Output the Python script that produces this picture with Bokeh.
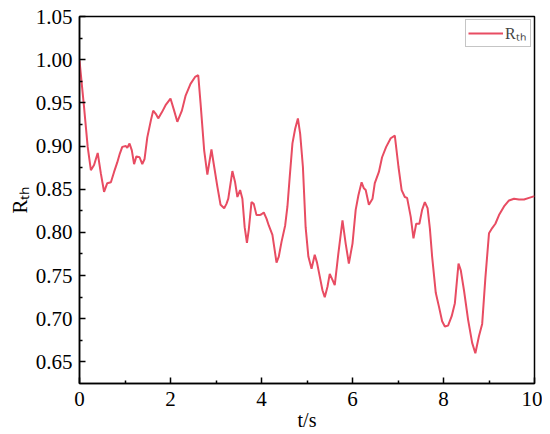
from bokeh.plotting import figure
from bokeh.models import (Range1d, FixedTicker, Legend, LegendItem,
                          PrintfTickFormatter)
from bokeh.embed import file_html
from bokeh.resources import INLINE

# ---- data ----
t_s = [0.00, 0.10, 0.18, 0.25, 0.32, 0.40, 0.47, 0.54, 0.61, 0.69, 0.76, 0.83,
       0.885, 0.94, 1.02, 1.05, 1.10, 1.15, 1.20, 1.25, 1.32, 1.38, 1.43, 1.49,
       1.57, 1.62, 1.68, 1.73, 1.81, 1.90, 2.00, 2.08, 2.15, 2.25, 2.33, 2.44,
       2.54, 2.61, 2.66, 2.74, 2.81, 2.90, 2.96, 3.03, 3.10, 3.18, 3.23, 3.27,
       3.36, 3.42, 3.47, 3.53, 3.58, 3.63, 3.68, 3.72, 3.78, 3.83, 3.89, 3.96,
       4.00, 4.05, 4.11, 4.16, 4.24, 4.28, 4.33, 4.38, 4.44, 4.52, 4.57, 4.62,
       4.68, 4.74, 4.80, 4.85, 4.91, 4.97, 5.03, 5.10, 5.17, 5.22, 5.28, 5.34,
       5.39, 5.45, 5.50, 5.56, 5.61, 5.69, 5.78, 5.85, 5.92, 6.00, 6.07, 6.13,
       6.20, 6.25, 6.29, 6.36, 6.44, 6.49, 6.58, 6.65, 6.74, 6.84, 6.93, 7.01,
       7.08, 7.15, 7.20, 7.28, 7.34, 7.40, 7.47, 7.53, 7.59, 7.65, 7.70, 7.75,
       7.83, 7.90, 7.97, 8.03, 8.10, 8.18, 8.25, 8.33, 8.38, 8.45, 8.54, 8.63,
       8.70, 8.78, 8.85, 8.92, 9.00, 9.07, 9.14, 9.22, 9.33, 9.44, 9.55, 9.66,
       9.77, 9.88, 10.00]
r_th = [0.999, 0.945, 0.899, 0.872, 0.878, 0.892, 0.868, 0.847, 0.857, 0.858, 0.870, 0.881,
        0.891, 0.899, 0.900, 0.898, 0.903, 0.895, 0.879, 0.888, 0.887, 0.879, 0.885, 0.910,
        0.930, 0.941, 0.937, 0.932, 0.939, 0.948, 0.955, 0.941, 0.928, 0.941, 0.958, 0.972,
        0.980, 0.982, 0.950, 0.895, 0.867, 0.896, 0.876, 0.853, 0.832, 0.828, 0.833, 0.839,
        0.871, 0.858, 0.841, 0.849, 0.839, 0.806, 0.788, 0.803, 0.835, 0.833, 0.820, 0.820,
        0.821, 0.823, 0.816, 0.808, 0.797, 0.783, 0.765, 0.772, 0.789, 0.808, 0.830, 0.864,
        0.903, 0.920, 0.932, 0.914, 0.876, 0.806, 0.772, 0.758, 0.774, 0.765, 0.749, 0.733,
        0.725, 0.737, 0.752, 0.745, 0.739, 0.776, 0.814, 0.787, 0.764, 0.787, 0.826, 0.843,
        0.858, 0.851, 0.849, 0.832, 0.839, 0.857, 0.870, 0.887, 0.899, 0.909, 0.912, 0.876,
        0.849, 0.841, 0.840, 0.818, 0.793, 0.810, 0.810, 0.826, 0.835, 0.828, 0.805, 0.772,
        0.730, 0.714, 0.697, 0.691, 0.692, 0.703, 0.718, 0.764, 0.756, 0.733, 0.699, 0.672,
        0.660, 0.680, 0.694, 0.747, 0.799, 0.805, 0.810, 0.820, 0.830, 0.837, 0.839, 0.838,
        0.838, 0.840, 0.842]

x_ticks = [0, 2, 4, 6, 8, 10]
x_minor = [1, 3, 5, 7, 9]
y_ticks = [0.65, 0.70, 0.75, 0.80, 0.85, 0.90, 0.95, 1.00, 1.05]
y_minor = [0.675, 0.725, 0.775, 0.825, 0.875, 0.925, 0.975, 1.025]
series_name = "Rₜₕ"

FONT = "Liberation Serif"
LINE_COLOR = "#E84C62"

p = figure(width=542, height=434, output_backend="svg", toolbar_location=None,
           x_range=Range1d(0, 10), y_range=Range1d(0.625, 1.05),
           min_border_left=79, min_border_right=8, min_border_top=16,
           min_border_bottom=51, background_fill_color="white",
           border_fill_color="white")
p.grid.visible = False
p.outline_line_color = "black"
p.outline_line_width = 1.5

r = p.line(t_s, r_th, line_color=LINE_COLOR, line_width=2)

for ax in (p.xaxis[0], p.yaxis[0]):
    ax.axis_line_width = 1.5
    ax.axis_line_color = "black"
    ax.major_tick_line_width = 1.5
    ax.minor_tick_line_width = 1.5
    ax.major_tick_in = 6
    ax.major_tick_out = 0
    ax.minor_tick_in = 3
    ax.minor_tick_out = 0
    ax.major_label_text_font = FONT
    ax.major_label_text_font_size = "21px"
    ax.major_label_text_color = "black"
    ax.axis_label_text_font = FONT
    ax.axis_label_text_font_style = "normal"
    ax.axis_label_text_color = "black"

p.xaxis.major_label_standoff = 8
p.yaxis.major_label_standoff = 7
p.xaxis.ticker = FixedTicker(ticks=x_ticks, minor_ticks=x_minor)
p.yaxis.ticker = FixedTicker(ticks=y_ticks, minor_ticks=y_minor)
p.yaxis.formatter = PrintfTickFormatter(format="%.2f")

p.xaxis.axis_label = "t/s"
p.xaxis.axis_label_text_font_size = "20px"
p.xaxis.axis_label_standoff = 0

p.yaxis.axis_label = series_name
p.yaxis.axis_label_text_font_size = "21px"
p.yaxis.axis_label_standoff = 1

legend = Legend(items=[LegendItem(label=series_name, renderers=[r])],
                location="top_right", margin=3, padding=2, spacing=0,
                glyph_width=35, glyph_height=20, label_height=20,
                label_width=23, label_standoff=2,
                label_text_font=FONT, label_text_font_size="16px",
                border_line_color="#8c8c8c", border_line_width=1,
                background_fill_alpha=1.0)
p.add_layout(legend)

open("out.html", "w").write(file_html(p, INLINE))
